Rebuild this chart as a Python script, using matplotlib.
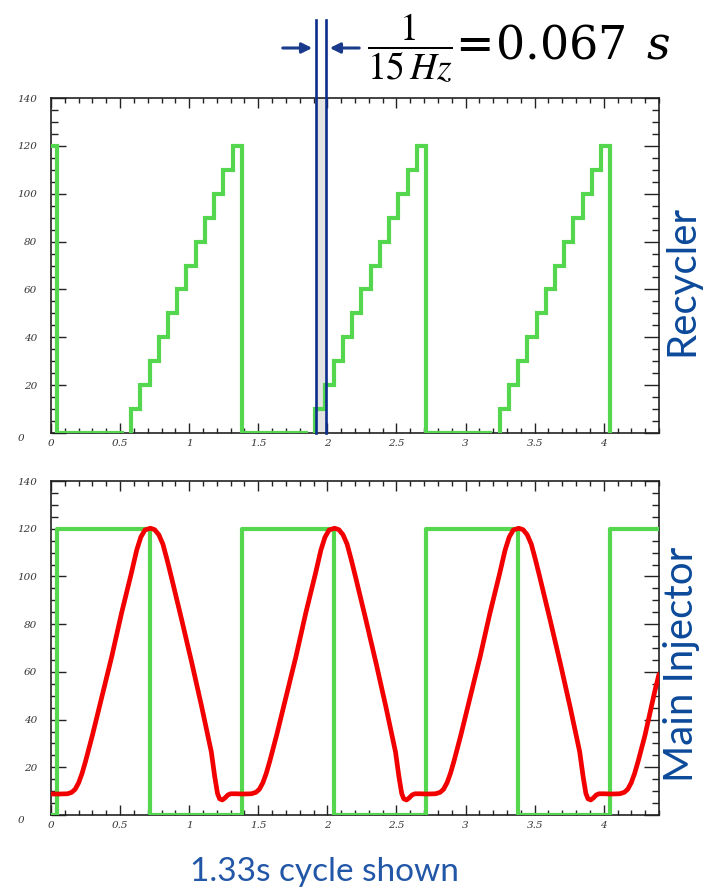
import numpy as np
import matplotlib
matplotlib.use("Agg")
import matplotlib.pyplot as plt
from matplotlib.ticker import MultipleLocator
import matplotlib.transforms as mtransforms
from matplotlib.patches import FancyArrowPatch

# ---------------- data ----------------
# Recycler: 15 Hz booster batches (bin width 1/15 s); NaN = empty bin drawn as gap
rec_bin_width = 1.0 / 15.0
rec_first_edge = -0.0197
rec_values = [120,
              0, 0, 0, 0, 0, 0, 0, np.nan,
              10, 20, 30, 40, 50, 60, 70, 80, 90, 100, 110, 120,
              0, 0, 0, 0, 0, 0, 0, np.nan,
              10, 20, 30, 40, 50, 60, 70, 80, 90, 100, 110, 120,
              0, 0, 0, 0, 0, 0, 0, np.nan,
              10, 20, 30, 40, 50, 60, 70, 80, 90, 100, 110, 120]

# Main Injector gate (green square wave)
mi_gate_edges = [0.0, 0.047, 0.713, 1.380, 2.047, 2.713, 3.380, 4.047, 4.40]
mi_gate_values = [0, 120, 0, 120, 0, 120, 0, 120]

# Main Injector ramp (red)
mi_ramp_t = [0.00, 0.06, 0.12, 0.15, 0.175, 0.20, 0.225, 0.25, 0.30, 0.37, 0.44, 0.51,
             0.58, 0.62, 0.65, 0.68, 0.72, 0.75, 0.78, 0.81, 0.84, 0.87, 0.945, 1.02,
             1.09, 1.16, 1.185, 1.205, 1.22, 1.24, 1.26, 1.28, 1.30,
             1.34, 1.39, 1.45, 1.483, 1.508, 1.533, 1.558, 1.583, 1.633, 1.703, 1.773, 1.843,
             1.913, 1.953, 1.983, 2.013, 2.053, 2.083, 2.113, 2.143, 2.173, 2.203, 2.278, 2.353,
             2.423, 2.493, 2.518, 2.538, 2.553, 2.573, 2.593, 2.613, 2.633,
             2.673, 2.723, 2.783, 2.816, 2.841, 2.866, 2.891, 2.916, 2.966, 3.036, 3.106, 3.176,
             3.246, 3.286, 3.316, 3.346, 3.386, 3.416, 3.446, 3.476, 3.506, 3.536, 3.611, 3.686,
             3.756, 3.826, 3.851, 3.871, 3.886, 3.906, 3.926, 3.946, 3.966,
             4.006, 4.056, 4.116, 4.149, 4.174, 4.199, 4.224, 4.249, 4.299, 4.37, 4.40]
mi_ramp_v = [8.8, 8.8, 8.9, 9.5, 10.8, 13.5, 17.5, 22.5, 33.5, 50, 66.5, 84.5,
             101, 111, 116.5, 119.5, 120.2, 119.6, 117.5, 113.5, 107, 100, 82, 63.5,
             45.5, 26.5, 16, 9, 6.8, 6.3, 7.2, 8.4, 8.9,
             8.9, 8.8, 8.9, 9.5, 10.8, 13.5, 17.5, 22.5, 33.5, 50, 66.5, 84.5,
             101, 111, 116.5, 119.5, 120.2, 119.6, 117.5, 113.5, 107, 100, 82, 63.5,
             45.5, 26.5, 16, 9, 6.8, 6.3, 7.2, 8.4, 8.9,
             8.9, 8.8, 8.9, 9.5, 10.8, 13.5, 17.5, 22.5, 33.5, 50, 66.5, 84.5,
             101, 111, 116.5, 119.5, 120.2, 119.6, 117.5, 113.5, 107, 100, 82, 63.5,
             45.5, 26.5, 16, 9, 6.8, 6.3, 7.2, 8.4, 8.9,
             8.9, 8.8, 8.9, 9.5, 10.8, 13.5, 17.5, 22.5, 33.5, 52, 59]

x_ticks = [0, 0.5, 1, 1.5, 2, 2.5, 3, 3.5, 4]
x_ticklabels = ["0", "0.5", "1", "1.5", "2", "2.5", "3", "3.5", "4"]
y_ticks = [0, 20, 40, 60, 80, 100, 120, 140]
y_ticklabels = ["0", "20", "40", "60", "80", "100", "120", "140"]

# marked 15 Hz interval
mark_x = [1.915, 1.99]

# ---------------- style ----------------
GREEN = "#55d64f"
RED = "#f20000"
NAVY = "#0b2d8c"
LABEL_BLUE = "#0c4a9a"
TEXT_BLUE = "#2257a8"

W, H = 714, 891
fig = plt.figure(figsize=(W / 100, H / 100), dpi=100)

def px_axes(left, top, right, bottom):
    return [left / W, 1 - bottom / H, (right - left) / W, (bottom - top) / H]

ax1 = fig.add_axes(px_axes(51, 98, 659, 433))
ax2 = fig.add_axes(px_axes(51, 481, 659, 815))

tick_font = dict(family="DejaVu Serif", style="italic", size=7.5)

for ax in (ax1, ax2):
    ax.set_xlim(0, 4.40)
    ax.set_ylim(0, 140)
    ax.set_xticks(x_ticks)
    ax.set_xticklabels(x_ticklabels, fontdict=tick_font, color="#333333")
    ax.set_yticks(y_ticks)
    ax.set_yticklabels(y_ticklabels, fontdict=tick_font, color="#333333")
    ax.xaxis.set_minor_locator(MultipleLocator(0.1))
    ax.yaxis.set_minor_locator(MultipleLocator(5))
    ax.tick_params(axis="x", which="major", direction="in", length=7, width=1.0,
                   top=True, bottom=True, pad=4, color="#222222")
    ax.tick_params(axis="x", which="minor", direction="in", length=3.5, width=1.0,
                   top=True, bottom=True, color="#222222")
    ax.tick_params(axis="y", which="major", direction="in", length=10.5, width=1.0,
                   left=True, right=True, pad=10, color="#222222")
    ax.tick_params(axis="y", which="minor", direction="in", length=5, width=1.0,
                   left=True, right=True, color="#222222")
    for s in ax.spines.values():
        s.set_linewidth(1.2)
        s.set_color("#222222")
    # ROOT-style shifted "0" label on the y axis
    lab0 = ax.get_yticklabels()[0]
    lab0.set_transform(lab0.get_transform() +
                       mtransforms.ScaledTranslation(-9 / 72, -3 / 72, fig.dpi_scale_trans))

# Recycler step path
rec_edges = rec_first_edge + rec_bin_width * np.arange(len(rec_values) + 1)
xs, ys = [], []
for l, r, v in zip(rec_edges[:-1], rec_edges[1:], rec_values):
    if np.isnan(v):
        xs += [l, np.nan, r]
        ys += [0, np.nan, 0]
    else:
        xs += [l, r]
        ys += [v, v]
xs.append(rec_edges[-1])
ys.append(0)
ax1.plot(xs, ys, color=GREEN, lw=3.0, solid_joinstyle="miter", zorder=3)

# shaded 1/15 Hz interval and lines
trans = ax1.get_xaxis_transform()
ax1.fill_between(mark_x, [0, 0], [1, 1], transform=trans, color="#e4e4e4", zorder=1, lw=0)
for xm in mark_x:
    ax1.plot([xm, xm], [0, 1.233], transform=trans, color=NAVY, lw=1.9, clip_on=False, zorder=5)

# Main injector
ax2.plot(mi_gate_edges, mi_gate_values + [mi_gate_values[-1]], drawstyle="steps-post",
         color=GREEN, lw=3.0, zorder=3)
ax2.plot(mi_ramp_t, mi_ramp_v, color=RED, lw=3.4, zorder=4, solid_capstyle="round")

# annotation arrows
def fpx(x, y):
    return (x / W, 1 - y / H)

arrow_kw = dict(arrowstyle="-|>", color="#1a3a8c", lw=2.2, mutation_scale=15)
fig.add_artist(FancyArrowPatch(fpx(280, 48), fpx(315, 48), transform=fig.transFigure, **arrow_kw))
fig.add_artist(FancyArrowPatch(fpx(362, 48), fpx(327, 48), transform=fig.transFigure, **arrow_kw))

fig.text(367 / W, 1 - 48 / H, r"$\dfrac{1}{15\,Hz}$", fontsize=27, math_fontfamily="stix",
         ha="left", va="center", color="black")
fig.text(447 / W, 1 - 46 / H, r"$=\!0.067\;\,s$", fontsize=33, math_fontfamily="dejavuserif",
         ha="left", va="center", color="black")

# side labels
fig.text(682 / W, 1 - 280 / H, "Recycler", rotation=90, ha="center", va="center",
         color=LABEL_BLUE, fontsize=29, family="Lato")
fig.text(682 / W, 1 - 664 / H, "Main Injector", rotation=90, ha="center", va="center",
         color=LABEL_BLUE, fontsize=29, family="Lato")

fig.text(324 / W, 1 - 872 / H, "1.33s cycle shown", ha="center", va="center",
         color=TEXT_BLUE, fontsize=24, family="Lato")

fig.savefig("out.png", dpi=100)
